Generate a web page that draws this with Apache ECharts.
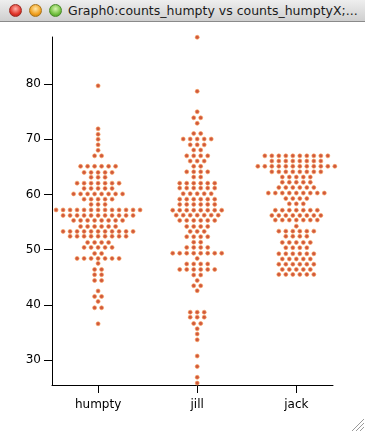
<!DOCTYPE html>
<html><head><meta charset="utf-8">
<script src="https://cdn.jsdelivr.net/npm/echarts@6/dist/echarts.min.js"></script>
<style>
html,body{margin:0;padding:0;background:#fff;}
#wrap{position:relative;width:365px;height:432px;overflow:hidden;background:#fff;}
#chart{position:absolute;left:0;top:0;width:365px;height:432px;}
#titlebar{position:absolute;left:0;top:0;width:365px;height:22px;background:linear-gradient(#eeeeee,#cfcfcf);border-bottom:1px solid #8a8a8a;box-sizing:border-box;z-index:2;}
.light{position:absolute;top:4px;width:13px;height:13px;border-radius:50%;box-sizing:border-box;}
#l1{left:9px;background:radial-gradient(circle at 50% 35%,#ffb0a8,#e0352a 60%,#a81c14);border:1px solid #9c2a22;}
#l2{left:29px;background:radial-gradient(circle at 50% 35%,#ffe7a8,#f0a020 60%,#b87008);border:1px solid #a8741a;}
#l3{left:49px;background:radial-gradient(circle at 50% 35%,#d8f5b0,#72c040 60%,#3d8a1c);border:1px solid #4a8a2a;}
#title{position:absolute;left:68px;top:3px;font-family:"DejaVu Sans";font-size:12.5px;color:#1a1a1a;white-space:nowrap;}
</style></head>
<body>
<div id="wrap">
  <div id="titlebar"><div class="light" id="l1"></div><div class="light" id="l2"></div><div class="light" id="l3"></div><div id="title">Graph0:counts_humpty vs counts_humptyX;...</div></div>
  <div id="chart"></div>
</div>
<script>
// ---- data ----
const categories = ['humpty', 'jill', 'jack'];
const yTicks = [30, 40, 50, 60, 70, 80];

// each swarm: row values and how many dots sit in that row
const humptyRowValues = [79.7, 71.9, 70.9, 70.0, 69.0, 68.0, 67.0, 65.1, 64.0, 63.1, 62.05, 61.1, 60.1, 59.15, 58.2, 57.2, 56.2, 55.3, 54.2, 53.3, 52.4, 51.3, 50.4, 49.3, 48.4, 47.5, 46.4, 45.45, 44.4, 42.5, 41.5, 40.6, 39.45, 36.55];
const humptyRowCounts = [1, 1, 1, 1, 1, 1, 2, 6, 5, 3, 7, 5, 8, 5, 3, 13, 11, 8, 6, 11, 9, 4, 5, 2, 7, 1, 2, 2, 2, 1, 2, 1, 2, 1];

const jillRowValues = [88.5, 78.7, 75.0, 73.9, 72.9, 71.05, 70.05, 69.0, 68.05, 67.0, 66.05, 65.1, 64.1, 63.15, 62.05, 61.15, 60.15, 59.15, 58.2, 57.15, 56.25, 55.3, 54.2, 53.3, 52.35, 51.35, 50.4, 49.35, 48.4, 47.4, 46.4, 45.4, 44.4, 43.45, 42.55, 38.65, 37.75, 36.6, 35.65, 34.7, 33.65, 30.7, 28.8, 26.85, 25.8];
const jillRowCounts = [1, 1, 1, 2, 1, 2, 5, 3, 2, 4, 3, 2, 4, 2, 6, 6, 5, 6, 6, 8, 7, 6, 4, 3, 4, 2, 4, 8, 1, 4, 6, 2, 1, 2, 1, 3, 3, 2, 1, 1, 1, 1, 1, 1, 1];

const jackRowValues = [67.0, 66.05, 65.1, 64.1, 63.15, 62.2, 61.25, 60.25, 59.25, 58.3, 57.15, 56.2, 55.35, 54.25, 53.35, 52.4, 51.3, 50.35, 49.25, 48.3, 47.35, 46.4, 45.5];
const jackRowCounts = [10, 8, 12, 8, 5, 5, 6, 9, 4, 3, 7, 8, 7, 1, 6, 4, 5, 4, 6, 5, 6, 5, 6];

// ---- layout ----
const GRID = { left: 52, right: 32, top: 37, bottom: 47 };
const X_MIN = 0.535, X_MAX = 3.37;
const Y_MIN = 25.45, Y_MAX = 88.55;
const DOT_GAP_PX = 7;
const unitsPerPx = (X_MAX - X_MIN) / (365 - GRID.left - GRID.right);

function swarm(catIndex, values, counts) {
  const out = [];
  values.forEach((v, i) => {
    const n = counts[i];
    for (let k = 0; k < n; k++) {
      out.push([catIndex + 1 + (k - (n - 1) / 2) * DOT_GAP_PX * unitsPerPx, v]);
    }
  });
  return out;
}

const groups = [
  [humptyRowValues, humptyRowCounts],
  [jillRowValues, jillRowCounts],
  [jackRowValues, jackRowCounts]
];

const dotStyle = { color: '#c4300c', borderColor: 'rgba(248,160,90,0.8)', borderWidth: 1 };

const chart = echarts.init(document.getElementById('chart'), null, { renderer: 'canvas' });
chart.setOption({
  animation: false,
  backgroundColor: '#fff',
  grid: { left: GRID.left, right: GRID.right, top: GRID.top, bottom: GRID.bottom, containLabel: false },
  xAxis: {
    type: 'value', min: X_MIN, max: X_MAX,
    axisLine: { show: true, onZero: false, lineStyle: { color: '#000', width: 1 } },
    axisTick: { show: true, length: 8, customValues: [1, 2, 3], lineStyle: { color: '#000' } },
    axisLabel: { show: true, customValues: [1, 2, 3], margin: 14, color: '#000', fontFamily: 'DejaVu Sans', fontSize: 12,
      formatter: v => categories[Math.round(v) - 1] || '' },
    splitLine: { show: false }
  },
  yAxis: {
    type: 'value', min: Y_MIN, max: Y_MAX,
    axisLine: { show: true, onZero: false, lineStyle: { color: '#000', width: 1 } },
    axisTick: { show: true, length: 8, customValues: yTicks, lineStyle: { color: '#000' } },
    axisLabel: { show: true, customValues: yTicks, margin: 11, color: '#000', fontFamily: 'DejaVu Sans', fontSize: 12 },
    splitLine: { show: false }
  },
  series: groups.map((g, i) => ({
    type: 'scatter', name: categories[i],
    data: swarm(i, g[0], g[1]),
    symbol: 'circle', symbolSize: 4,
    itemStyle: dotStyle,
    emphasis: { disabled: true },
    clip: false
  })),
  graphic: [
    { type: 'line', shape: { x1: 364, y1: 419, x2: 352, y2: 431 }, style: { stroke: '#9a9a9a', lineWidth: 1 } },
    { type: 'line', shape: { x1: 364, y1: 423, x2: 356, y2: 431 }, style: { stroke: '#9a9a9a', lineWidth: 1 } },
    { type: 'line', shape: { x1: 364, y1: 427, x2: 360, y2: 431 }, style: { stroke: '#9a9a9a', lineWidth: 1 } }
  ]
});
</script>
</body></html>
